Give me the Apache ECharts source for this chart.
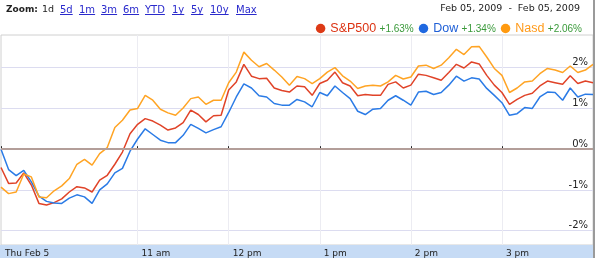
<!DOCTYPE html>
<html><head><meta charset="utf-8">
<script src="https://cdn.jsdelivr.net/npm/echarts@6/dist/echarts.min.js"></script>
<style>html,body{margin:0;padding:0;background:#fff}#c{width:600px;height:258px}</style>
</head><body><div id="c"></div>
<script>
const times = ['9:30','9:35','9:40','9:45','9:50','9:55',
 '10:00','10:05','10:10','10:15','10:20','10:25','10:30','10:35','10:40','10:45','10:50','10:55',
 '11:00','11:05','11:10','11:15','11:20','11:25','11:30','11:35','11:40','11:45','11:50','11:55',
 '12:00','12:05','12:10','12:15','12:20','12:25','12:30','12:35','12:40','12:45','12:50','12:55',
 '13:00','13:05','13:10','13:15','13:20','13:25','13:30','13:35','13:40','13:45','13:50','13:55',
 '14:00','14:05','14:10','14:15','14:20','14:25','14:30','14:35','14:40','14:45','14:50','14:55',
 '15:00','15:05','15:10','15:15','15:20','15:25','15:30','15:35','15:40','15:45','15:50','15:55',
 '16:00'];
const sp500 = [-0.45,-0.84,-0.83,-0.58,-0.88,-1.33,-1.37,-1.31,-1.22,-1.05,-0.92,-0.95,-1.05,-0.76,-0.64,-0.37,-0.07,0.38,0.61,0.75,
 0.69,0.59,0.47,0.52,0.65,0.96,0.85,0.67,0.82,0.83,1.45,1.65,2.08,1.79,1.73,1.74,1.50,1.44,1.40,1.55,
 1.53,1.32,1.61,1.69,1.89,1.63,1.55,1.31,1.34,1.32,1.32,1.59,1.65,1.50,1.57,1.84,1.81,1.75,1.69,1.88,
 2.08,1.99,2.14,2.09,1.81,1.57,1.39,1.10,1.22,1.32,1.37,1.55,1.67,1.63,1.59,1.80,1.61,1.67,1.63];
const dow = [0.00,-0.50,-0.65,-0.52,-0.80,-1.15,-1.28,-1.32,-1.33,-1.20,-1.12,-1.17,-1.33,-1.00,-0.85,-0.58,-0.47,-0.05,0.25,0.50,
 0.36,0.22,0.16,0.16,0.34,0.61,0.51,0.40,0.48,0.55,0.90,1.28,1.60,1.50,1.31,1.28,1.12,1.08,1.08,1.22,
 1.16,1.04,1.39,1.31,1.55,1.39,1.24,0.93,0.85,0.98,1.00,1.20,1.31,1.20,1.08,1.40,1.42,1.34,1.39,1.57,
 1.79,1.67,1.75,1.72,1.49,1.32,1.14,0.83,0.87,1.02,1.00,1.28,1.40,1.39,1.20,1.50,1.28,1.35,1.34];
const nasd = [-0.93,-1.09,-1.05,-0.61,-0.68,-1.17,-1.19,-1.02,-0.90,-0.72,-0.37,-0.25,-0.39,-0.11,0.04,0.53,0.71,0.96,1.00,1.32,
 1.20,0.98,0.89,0.83,1.01,1.24,1.28,1.10,1.20,1.20,1.63,1.89,2.38,2.18,2.02,2.10,1.94,1.77,1.57,1.78,
 1.73,1.61,1.73,1.89,2.00,1.80,1.67,1.49,1.55,1.57,1.55,1.65,1.81,1.72,1.77,2.04,2.06,1.98,2.06,2.24,
 2.45,2.32,2.51,2.52,2.26,1.98,1.81,1.39,1.50,1.65,1.67,1.85,1.98,1.94,1.88,2.04,1.88,1.94,2.08];
const seriesNames = ['S&P500','Dow','Nasd'];
const changes = ['+1.63%','+1.34%','+2.06%'];
const tickTimes = ['9:30','11:00','12:00','13:00','14:00','15:00'];
const tickLabels = ['Thu Feb 5','11 am','12 pm','1 pm','2 pm','3 pm'];
const yTicks = [-2,-1,0,1,2];
const zoomLinks = ['5d','1m','3m','6m','YTD','1y','5y','10y','Max'];
const dateRange = 'Feb 05, 2009  -  Feb 05, 2009';

// layout / style
const lineColors = ['#e04328','#2b7be6','#ffa424'];
const legendColors = ['#dd3a16','#1f68e0','#ff9a10'];
const nameColors = ['#dc3414','#1f5fd6','#ff9a1a'];
const linkX = [60,79,101,123,145,172,191,210,236];
const font = 'DejaVu Sans';

const ctx = document.createElement('canvas').getContext('2d');
ctx.font = '10px "DejaVu Sans"';
const graphics = [
  {type:'rect', shape:{x:0,y:245,width:593,height:13}, style:{fill:'#c6dbf5'}, z:0, silent:true},
  {type:'line', shape:{x1:594,y1:0,x2:594,y2:258}, style:{stroke:'#9a9a9a',lineWidth:2}, z:10, silent:true},
  {type:'text', x:6, y:10, style:{text:'Zoom:', font:'bold 9px "DejaVu Sans"', fill:'#222', verticalAlign:'middle'}},
  {type:'text', x:42, y:10, style:{text:'1d', font:'9.5px "DejaVu Sans"', fill:'#222', verticalAlign:'middle'}},
  {type:'text', x:580, y:9, style:{text:dateRange, font:'9.5px "DejaVu Sans"', fill:'#222', align:'right', verticalAlign:'middle'}}
];
zoomLinks.forEach((t,i)=>{
  const w = ctx.measureText(t).width;
  graphics.push({type:'text', x:linkX[i], y:10, style:{text:t, font:'10px "DejaVu Sans"', fill:'#2a2acc', verticalAlign:'middle'}});
  graphics.push({type:'line', shape:{x1:linkX[i], y1:14.5, x2:linkX[i]+w, y2:14.5}, style:{stroke:'#2a2acc', lineWidth:1}});
});

const rich = {p:{color:'#3a9a3a', fontSize:10, fontFamily:'Liberation Sans', padding:[1,0,0,0]}};
seriesNames.forEach((n,i)=>{ rich['n'+i] = {color:nameColors[i], fontSize:12.5, fontFamily:'Liberation Sans'}; });

const chart = echarts.init(document.getElementById('c'), null, {renderer:'canvas'});
chart.setOption({
  animation:false,
  backgroundColor:'#fff',
  graphic: graphics,
  legend:{
    right:13, top:17, icon:'circle', itemWidth:9.5, itemHeight:9.5, itemGap:5,
    data: seriesNames.map((n,i)=>({name:n, itemStyle:{color:legendColors[i]}})),
    formatter: name => { const i = seriesNames.indexOf(name); return '{n'+i+'|'+name+'} {p|'+changes[i]+'}'; },
    textStyle:{rich: rich},
    selectedMode:false
  },
  grid:{left:1, right:7, top:35, bottom:13, show:true, borderColor:'#d0d0d0', borderWidth:1},
  xAxis:{
    type:'category', data:times, boundaryGap:false,
    axisLine:{show:false},
    axisTick:{show:true, inside:true, length:3, lineStyle:{color:'#222'}, interval:(i,v)=>tickTimes.indexOf(v)>=0},
    axisLabel:{interval:(i,v)=>tickTimes.indexOf(v)>=0, formatter:(v)=>tickLabels[tickTimes.indexOf(v)],
      align:'left', padding:[0,0,0,4], margin:4, fontFamily:font, fontSize:9, color:'#222'},
    splitLine:{show:true, interval:(i,v)=>i>0 && tickTimes.indexOf(v)>=0, lineStyle:{color:'#ececf2', width:1}}
  },
  yAxis:{
    type:'value', min:-2.35, max:2.8, position:'right',
    axisLine:{show:false},
    axisTick:{show:false, customValues:yTicks},
    axisLabel:{inside:true, customValues:yTicks, formatter:v=>v+'%', verticalAlign:'bottom', lineHeight:10,
      margin:5, fontFamily:font, fontSize:10, color:'#222'},
    splitLine:{show:true, lineStyle:{color:'#dcdcf0', width:1}}
  },
  series:[
    {type:'line', name:'zero', data:[], silent:true,
      markLine:{silent:true, symbol:'none', label:{show:false}, lineStyle:{color:'#b39e99', width:2, type:'solid'}, data:[{yAxis:0}]}},
    {type:'line', name:seriesNames[0], data:sp500, symbol:'none', lineStyle:{width:1.5, color:lineColors[0]}, itemStyle:{color:lineColors[0]}},
    {type:'line', name:seriesNames[1], data:dow, symbol:'none', lineStyle:{width:1.5, color:lineColors[1]}, itemStyle:{color:lineColors[1]}},
    {type:'line', name:seriesNames[2], data:nasd, symbol:'none', lineStyle:{width:1.5, color:lineColors[2]}, itemStyle:{color:lineColors[2]}}
  ]
});
</script></body></html>
